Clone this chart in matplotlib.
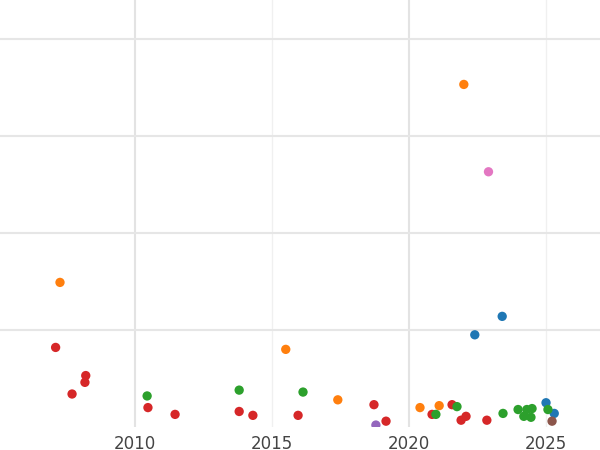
import matplotlib
matplotlib.use("Agg")
import matplotlib.pyplot as plt

orange_x = [2022.0, 2007.26, 2015.5, 2017.4, 2020.4, 2021.1]
orange_y = [3.53, 1.49, 0.80, 0.28, 0.20, 0.22]
pink_x = [2022.9]
pink_y = [2.63]
blue_x = [2023.4, 2022.4, 2025.0, 2025.3]
blue_y = [1.14, 0.95, 0.25, 0.14]
red_x = [2007.1, 2008.2, 2008.17, 2007.7, 2010.47, 2011.46, 2013.8, 2014.3, 2015.95,
         2018.72, 2019.16, 2020.84, 2021.57, 2021.9, 2022.08, 2022.84]
red_y = [0.82, 0.53, 0.46, 0.34, 0.20, 0.13, 0.16, 0.12, 0.12, 0.23, 0.06, 0.13,
         0.23, 0.07, 0.11, 0.07]
green_x = [2010.44, 2013.8, 2016.13, 2020.98, 2021.75, 2023.43, 2023.98, 2024.19,
           2024.3, 2024.49, 2024.45, 2025.07]
green_y = [0.32, 0.38, 0.36, 0.13, 0.21, 0.14, 0.18, 0.11, 0.18, 0.19, 0.10, 0.18]
purple_x = [2018.79]
purple_y = [0.02]
brown_x = [2025.22]
brown_y = [0.06]

xticks = [2010, 2015, 2020, 2025]

fig = plt.figure(figsize=(6, 4.5), dpi=100)
ax = fig.add_axes([0, 1 - 427 / 450, 1, 427 / 450])
series = [(orange_x, orange_y, "#ff7f0e"), (pink_x, pink_y, "#e377c2"),
          (blue_x, blue_y, "#1f77b4"), (red_x, red_y, "#d62728"),
          (green_x, green_y, "#2ca02c"), (purple_x, purple_y, "#9467bd"),
          (brown_x, brown_y, "#8c564b")]
for x, y, c in series:
    ax.scatter(x, y, s=45, color=c, edgecolors="none", zorder=3)

ax.set_xlim(2005.07, 2026.97)
ax.set_ylim(0, 4.4)
ax.set_xticks(xticks)
ax.set_xticklabels([str(t) for t in xticks], color="#444444", fontsize=12)
ax.set_yticks([1, 2, 3, 4])
ax.set_yticklabels([])
for v in [2010, 2020]:
    ax.axvline(v, color="#e3e3e3", lw=1.5, zorder=0)
for v in [2015, 2025]:
    ax.axvline(v, color="#f0f0f0", lw=1, zorder=0)
for v in [1, 2, 3, 4]:
    ax.axhline(v, color="#e6e6e6", lw=1.5, zorder=0)
ax.tick_params(length=0, pad=6)
for s in ax.spines.values():
    s.set_visible(False)
fig.savefig("out.png", dpi=100)
